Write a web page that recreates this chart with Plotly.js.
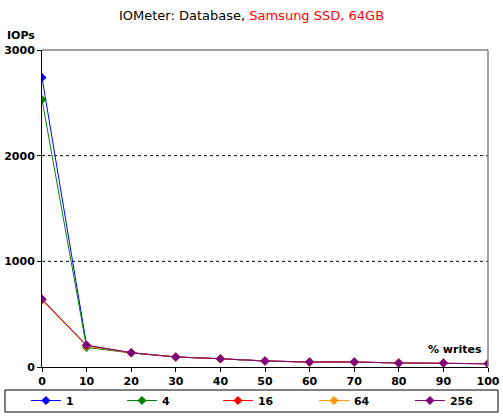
<!DOCTYPE html>
<html><head><meta charset="utf-8">
<script src="https://cdn.plot.ly/plotly-3.0.1.min.js"></script>
<style>html,body{margin:0;padding:0;background:#fff}#chart{width:503px;height:419px}</style>
</head><body><div id="chart"></div>
<script>
const writesPct = [0, 10, 20, 30, 40, 50, 60, 70, 80, 90, 100];
const seriesNames = ['1', '4', '16', '64', '256'];
const iops1   = [2740, 205, 135, 95, 78, 57, 47, 47, 38, 38, 31];
const iops4   = [2530, 185, 133, 95, 78, 57, 47, 47, 38, 38, 31];
const iops16  = [640, 200, 135, 95, 78, 57, 47, 47, 38, 38, 31];
const iops64  = [632, 198, 135, 95, 78, 57, 47, 47, 38, 38, 31];
const iops256 = [642, 206, 135, 95, 78, 57, 47, 47, 38, 38, 31];
const colors = ['#0000ff', '#008000', '#ff0000', '#ff9900', '#800080'];
const allSeries = [iops1, iops4, iops16, iops64, iops256];

const traces = allSeries.map((ys, i) => ({
  x: writesPct, y: ys, name: seriesNames[i], type: 'scatter', mode: 'lines+markers',
  line: {color: colors[i], width: 1},
  marker: {symbol: 'diamond', size: 7, color: colors[i]}
}));

const ff = 'DejaVu Sans, Verdana, sans-serif';
const layout = {
  width: 503, height: 419,
  margin: {l: 42, r: 15, t: 50, b: 52, autoexpand: false},
  paper_bgcolor: '#fff', plot_bgcolor: '#fff',
  font: {family: ff, size: 11, color: '#000'},
  showlegend: true,
  title: {text: "IOMeter: Database, <span style='color:#ff0000'>Samsung SSD, 64GB</span>",
          font: {family: ff, size: 13, color: '#000'},
          x: 0.5, xanchor: 'center', y: 0.962, yanchor: 'middle'},
  xaxis: {range: [0, 100], tickvals: writesPct, ticks: 'outside', ticklen: 4, tickcolor: '#000',
          showline: true, linecolor: '#000', linewidth: 1, showgrid: false, zeroline: false,
          tickfont: {family: ff, size: 11, color: '#000', weight: 'bold'}},
  yaxis: {range: [0, 3000], tickvals: [0, 1000, 2000, 3000], ticks: 'outside', ticklen: 4, tickcolor: '#000',
          showline: true, linecolor: '#000', linewidth: 1, showgrid: false, zeroline: false,
          tickfont: {family: ff, size: 11, color: '#000', weight: 'bold'}},
  shapes: [
    {type: 'line', xref: 'paper', yref: 'y', x0: 0, x1: 1, y0: 1000, y1: 1000, line: {color: '#000', width: 1, dash: '3px,3px'}, layer: 'below'},
    {type: 'line', xref: 'paper', yref: 'y', x0: 0, x1: 1, y0: 2000, y1: 2000, line: {color: '#000', width: 1, dash: '3px,3px'}, layer: 'below'},
    {type: 'line', xref: 'paper', yref: 'paper', x0: 0, x1: 1, y0: 1, y1: 1, line: {color: '#808080', width: 1.5}},
    {type: 'line', xref: 'paper', yref: 'paper', x0: 1, x1: 1, y0: 0, y1: 1, line: {color: '#808080', width: 1.5}},
    {type: 'rect', xref: 'paper', yref: 'paper', x0: -0.083, x1: 1.0224, y0: -0.142, y1: -0.0726,
     line: {color: '#000', width: 1}, fillcolor: 'rgba(0,0,0,0)'}
  ],
  annotations: [
    {text: '<b>IOPs</b>', xref: 'paper', yref: 'paper', x: -0.083, y: 1.047, xanchor: 'left', yanchor: 'middle', showarrow: false,
     font: {family: ff, size: 11, color: '#000'}},
    {text: '<b>% writes</b>', xref: 'paper', yref: 'paper', x: 0.99, y: 0.055, xanchor: 'right', yanchor: 'middle', showarrow: false,
     font: {family: ff, size: 11, color: '#000'}}
  ],
  legend: {orientation: 'h', x: -0.036, xanchor: 'left', y: -0.06, yanchor: 'top',
           borderwidth: 0, bgcolor: 'rgba(0,0,0,0)',
           entrywidth: 51, entrywidthmode: 'pixels', itemwidth: 30,
           font: {family: ff, size: 11, color: '#000', weight: 'bold'},
           traceorder: 'normal'}
};
Plotly.newPlot('chart', traces, layout, {displayModeBar: false, staticPlot: true});
</script></body></html>
